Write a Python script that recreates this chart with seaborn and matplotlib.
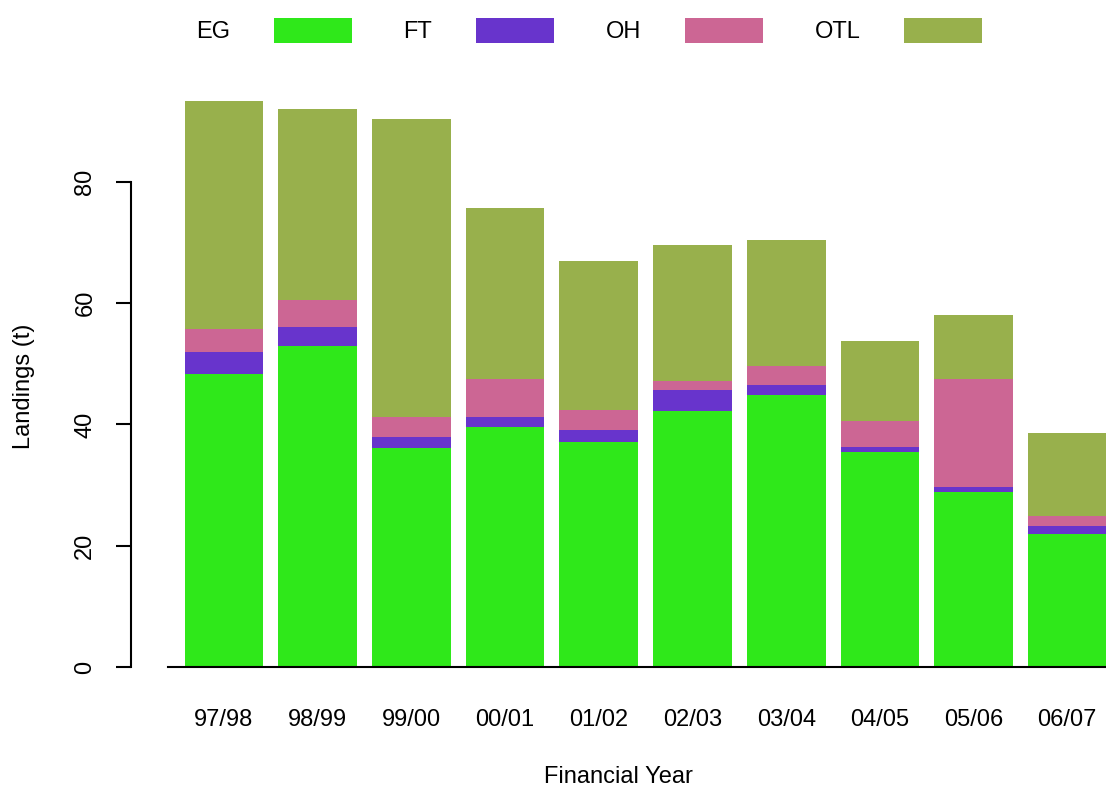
import matplotlib
matplotlib.use("Agg")
import matplotlib.pyplot as plt
from matplotlib.patches import Patch
import numpy as np
import pandas as pd
import seaborn as sns

sns.set_theme(style="white")
plt.rcParams['font.family'] = ['Liberation Sans', 'DejaVu Sans']
plt.rcParams.update({'text.color': 'black', 'axes.labelcolor': 'black',
                     'xtick.color': 'black', 'ytick.color': 'black'})

# landings per gear type, by financial year (t)
years = ['97/98', '98/99', '99/00', '00/01', '01/02', '02/03', '03/04', '04/05', '05/06', '06/07']
eg = [48.3, 52.9, 36.2, 39.6, 37.1, 42.2, 44.8, 35.4, 28.8, 22.0]
ft = [3.7, 3.1, 1.8, 1.6, 2.0, 3.5, 1.7, 0.9, 0.9, 1.3]
oh = [3.7, 4.6, 3.2, 6.3, 3.3, 1.5, 3.1, 4.3, 17.8, 1.6]
otl = [37.7, 31.4, 49.2, 28.2, 24.6, 22.4, 20.8, 13.1, 10.6, 13.7]

gears = ['EG', 'FT', 'OH', 'OTL']
colors = ['#2FE81A', '#6834CC', '#CC6694', '#98B04C']

df = pd.DataFrame({'year': years, 'EG': eg, 'FT': ft, 'OH': oh, 'OTL': otl})
cum = df[gears].cumsum(axis=1)

fig = plt.figure(figsize=(11.06, 7.91), dpi=100)
ax = fig.add_axes([131 / 1106, 1 - 667 / 791, 975 / 1106, 576 / 791])

# stacked bars: draw tallest cumulative layer first
for g, c in reversed(list(zip(gears, colors))):
    sns.barplot(x=df['year'], y=cum[g], color=c, saturation=1, width=0.84,
                linewidth=0, ax=ax)

ax.set_xlim(-0.9925, 9.413)
ax.set_ylim(0, 95)
ax.set_yticks([0, 20, 40, 60, 80])
ax.tick_params(axis='y', labelsize=17, length=11, width=1.5, pad=14, labelrotation=90, left=True)
ax.tick_params(axis='x', labelsize=17, length=0, pad=30)
for t in ax.get_yticklabels():
    t.set_va('center')

for s in ['top', 'right']:
    ax.spines[s].set_visible(False)
ax.spines['left'].set_bounds(0, 80)
ax.spines['left'].set_linewidth(1.5)
ax.spines['bottom'].set_bounds(-0.6, 9.413)
ax.spines['bottom'].set_linewidth(1.5)
for s in ['left', 'bottom']:
    ax.spines[s].set_color('black')

ax.set_ylabel('Landings (t)', fontsize=17)
ax.set_xlabel('Financial Year', fontsize=17)
ax.yaxis.set_label_coords(-0.0985, 0.488)
ax.xaxis.set_label_coords(0.5, -0.172)

handles = [Patch(facecolor=c, edgecolor='none', label=g) for g, c in zip(gears, colors)]
fig.legend(handles=handles, loc='center', bbox_to_anchor=(0.5326, 0.961), ncol=4,
           frameon=False, markerfirst=False, fontsize=17, handlelength=3.3,
           handleheight=1.2, handletextpad=1.85, columnspacing=2.2)

fig.savefig('out.png', dpi=100)
